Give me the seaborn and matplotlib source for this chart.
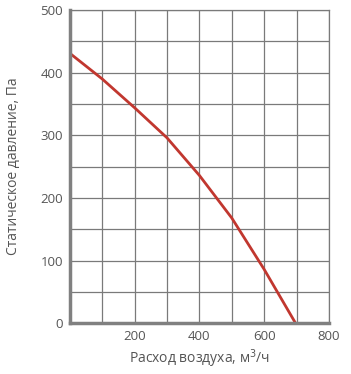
import pandas as pd
import numpy as np
import matplotlib
matplotlib.use('Agg')
import matplotlib.pyplot as plt
import seaborn as sns
from matplotlib.ticker import MultipleLocator

# 풍량-정압 곡선 (값은 그림에서 읽음)
flow = [0, 100, 200, 300, 400, 500, 600, 697]
pressure = [431, 390, 344, 296, 236, 168, 86, 0]
x_ticks = [200, 400, 600, 800]
y_ticks = [0, 100, 200, 300, 400, 500]

df = pd.DataFrame({'flow': flow, 'pressure': pressure})

sns.set_style('white')
plt.rcParams['font.family'] = ['Open Sans', 'DejaVu Sans']

fig = plt.figure(figsize=(3.51, 3.74), dpi=100)
ax = fig.add_axes([0.199, 0.136, 0.738, 0.837])

sns.lineplot(data=df, x='flow', y='pressure', ax=ax, color='#c1372f', linewidth=2.0)

ax.set_xlim(0, 800)
ax.set_ylim(0, 500)
ax.xaxis.set_minor_locator(MultipleLocator(100))
ax.yaxis.set_minor_locator(MultipleLocator(50))
ax.set_xticks(x_ticks)
ax.set_yticks(y_ticks)
ax.grid(True, which='both', color='#7a7a7a', linewidth=0.9)
ax.set_axisbelow(True)
ax.tick_params(which='both', length=0, labelsize=9.5, colors='#555555', pad=5)

for s in ['top', 'right']:
    ax.spines[s].set_color('#7a7a7a')
    ax.spines[s].set_linewidth(0.9)
for s in ['left', 'bottom']:
    ax.spines[s].set_color('#808080')
    ax.spines[s].set_linewidth(2.5)

ax.set_xlabel('Расход воздуха, м$^3$/ч', fontsize=10, color='#555555', labelpad=3)
ax.set_ylabel('Статическое давление, Па', fontsize=10, color='#555555', labelpad=14)

fig.savefig('out.png', dpi=100)
